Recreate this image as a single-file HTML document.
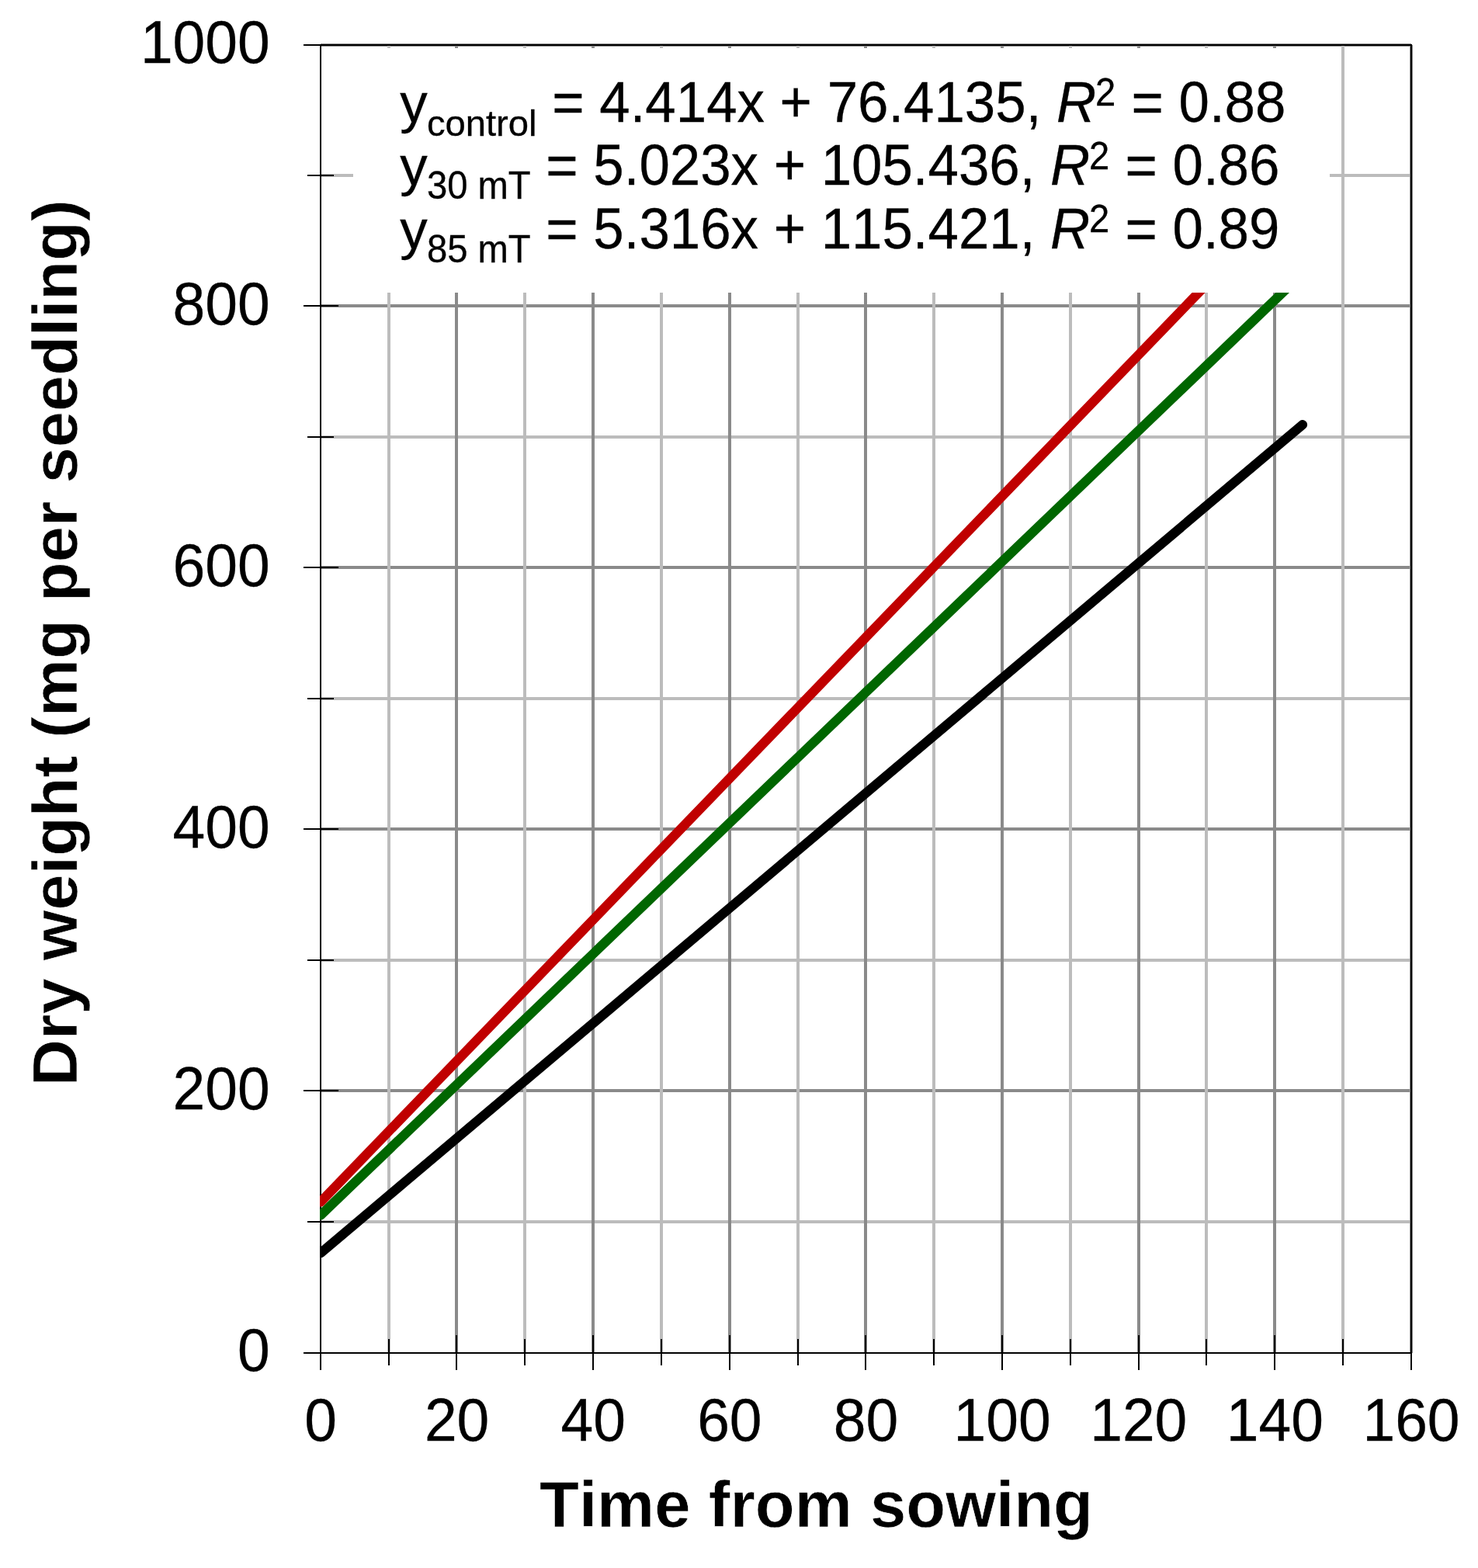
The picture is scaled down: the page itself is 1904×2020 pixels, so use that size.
<!DOCTYPE html>
<html lang="en"><head><meta charset="utf-8"><title>Dry weight (mg per seedling) vs. time from sowing</title>
<style>
html,body{margin:0;padding:0;background:#fff;overflow:hidden;width:1904px;height:2020px}
svg{display:block}
text{font-family:"Liberation Sans",sans-serif;font-kerning:none;fill:#000}
.tk{font-size:75px;stroke:#000;stroke-width:0.3px}
.ti{font-size:83.33px;font-weight:bold;stroke:#fff;stroke-width:0.6px}
.eq{font-size:70.83px;stroke:#000;stroke-width:0.3px}
.sb{font-size:47.2px}
</style></head><body>
<svg width="1904" height="2020" viewBox="0 0 1904 2020" role="img" aria-label="Dry weight (mg per seedling) versus time from sowing">
<rect x="0" y="0" width="1904" height="2020" fill="#fff"/>
<g fill="none" stroke-width="4" shape-rendering="crispEdges">
<line x1="413" x2="1818" y1="1574" y2="1574" stroke="#bcbcbc"/>
<line x1="413" x2="1818" y1="1405" y2="1405" stroke="#8a8a8a"/>
<line x1="413" x2="1818" y1="1237" y2="1237" stroke="#bcbcbc"/>
<line x1="413" x2="1818" y1="1068" y2="1068" stroke="#8a8a8a"/>
<line x1="413" x2="1818" y1="900" y2="900" stroke="#bcbcbc"/>
<line x1="413" x2="1818" y1="731" y2="731" stroke="#8a8a8a"/>
<line x1="413" x2="1818" y1="563" y2="563" stroke="#bcbcbc"/>
<line x1="413" x2="1818" y1="394" y2="394" stroke="#8a8a8a"/>
<line x1="413" x2="1818" y1="226" y2="226" stroke="#bcbcbc"/>
<line x1="413" x2="1818" y1="58" y2="58" stroke="#8a8a8a"/>
<line x1="501" x2="501" y1="58" y2="1743" stroke="#bcbcbc"/>
<line x1="588" x2="588" y1="58" y2="1743" stroke="#8a8a8a"/>
<line x1="676" x2="676" y1="58" y2="1743" stroke="#bcbcbc"/>
<line x1="764" x2="764" y1="58" y2="1743" stroke="#8a8a8a"/>
<line x1="852" x2="852" y1="58" y2="1743" stroke="#bcbcbc"/>
<line x1="940" x2="940" y1="58" y2="1743" stroke="#8a8a8a"/>
<line x1="1028" x2="1028" y1="58" y2="1743" stroke="#bcbcbc"/>
<line x1="1115" x2="1115" y1="58" y2="1743" stroke="#8a8a8a"/>
<line x1="1203" x2="1203" y1="58" y2="1743" stroke="#bcbcbc"/>
<line x1="1291" x2="1291" y1="58" y2="1743" stroke="#8a8a8a"/>
<line x1="1379" x2="1379" y1="58" y2="1743" stroke="#bcbcbc"/>
<line x1="1467" x2="1467" y1="58" y2="1743" stroke="#8a8a8a"/>
<line x1="1554" x2="1554" y1="58" y2="1743" stroke="#bcbcbc"/>
<line x1="1642" x2="1642" y1="58" y2="1743" stroke="#8a8a8a"/>
<line x1="1730" x2="1730" y1="58" y2="1743" stroke="#bcbcbc"/>
<line x1="1818" x2="1818" y1="58" y2="1743" stroke="#8a8a8a"/>
</g>
<rect x="455" y="62" width="1258" height="315" fill="#fff"/>
<g fill="none" stroke="#000" stroke-width="2">
<rect x="413" y="58" width="1405" height="1685"/>
<line x1="391" x2="413" y1="1743" y2="1743"/>
<line x1="396" x2="430" y1="1574" y2="1574"/>
<line x1="391" x2="436" y1="1405" y2="1405"/>
<line x1="396" x2="430" y1="1237" y2="1237"/>
<line x1="391" x2="436" y1="1068" y2="1068"/>
<line x1="396" x2="430" y1="900" y2="900"/>
<line x1="391" x2="436" y1="731" y2="731"/>
<line x1="396" x2="430" y1="563" y2="563"/>
<line x1="391" x2="436" y1="394" y2="394"/>
<line x1="396" x2="430" y1="226" y2="226"/>
<line x1="391" x2="413" y1="58" y2="58"/>
<line x1="413" x2="413" y1="1743" y2="1765"/>
<line x1="501" x2="501" y1="1725" y2="1759"/>
<line x1="588" x2="588" y1="1720" y2="1765"/>
<line x1="676" x2="676" y1="1725" y2="1759"/>
<line x1="764" x2="764" y1="1720" y2="1765"/>
<line x1="852" x2="852" y1="1725" y2="1759"/>
<line x1="940" x2="940" y1="1720" y2="1765"/>
<line x1="1028" x2="1028" y1="1725" y2="1759"/>
<line x1="1115" x2="1115" y1="1720" y2="1765"/>
<line x1="1203" x2="1203" y1="1725" y2="1759"/>
<line x1="1291" x2="1291" y1="1720" y2="1765"/>
<line x1="1379" x2="1379" y1="1725" y2="1759"/>
<line x1="1467" x2="1467" y1="1720" y2="1765"/>
<line x1="1554" x2="1554" y1="1725" y2="1759"/>
<line x1="1642" x2="1642" y1="1720" y2="1765"/>
<line x1="1730" x2="1730" y1="1725" y2="1759"/>
<line x1="1818" x2="1818" y1="1743" y2="1765"/>
</g>
<clipPath id="pc"><rect x="412" y="377" width="1407" height="1366"/></clipPath>
<clipPath id="pk"><rect x="412" y="58" width="1407" height="1685"/></clipPath>
<g clip-path="url(#pc)"><line x1="413" y1="1565.5" x2="1678" y2="352.251" fill="none" stroke="#006600" stroke-width="12.2" stroke-linecap="round"/></g>
<g clip-path="url(#pc)"><line x1="413" y1="1548.5" x2="1678" y2="238.314" fill="none" stroke="#c00000" stroke-width="12.2" stroke-linecap="round"/></g>
<g clip-path="url(#pk)"><line x1="413" y1="1614.3" x2="1678" y2="547.197" fill="none" stroke="#000000" stroke-width="12.2" stroke-linecap="round"/></g>
<text class="tk" text-anchor="end" transform="translate(347.7 1766.3) scale(1 1.04)" xml:space="preserve">0</text>
<text class="tk" text-anchor="end" transform="translate(347.7 1429.3) scale(1 1.04)" xml:space="preserve">200</text>
<text class="tk" text-anchor="end" transform="translate(347.7 1092.3) scale(1 1.04)" xml:space="preserve">400</text>
<text class="tk" text-anchor="end" transform="translate(347.7 755.3) scale(1 1.04)" xml:space="preserve">600</text>
<text class="tk" text-anchor="end" transform="translate(347.7 418.3) scale(1 1.04)" xml:space="preserve">800</text>
<text class="tk" text-anchor="end" transform="translate(347.7 81.3) scale(1 1.04)" xml:space="preserve">1000</text>
<text class="tk" text-anchor="middle" transform="translate(413 1856.3) scale(1 1.04)" xml:space="preserve">0</text>
<text class="tk" text-anchor="middle" transform="translate(588.625 1856.3) scale(1 1.04)" xml:space="preserve">20</text>
<text class="tk" text-anchor="middle" transform="translate(764.25 1856.3) scale(1 1.04)" xml:space="preserve">40</text>
<text class="tk" text-anchor="middle" transform="translate(939.875 1856.3) scale(1 1.04)" xml:space="preserve">60</text>
<text class="tk" text-anchor="middle" transform="translate(1115.5 1856.3) scale(1 1.04)" xml:space="preserve">80</text>
<text class="tk" text-anchor="middle" transform="translate(1291.125 1856.3) scale(1 1.04)" xml:space="preserve">100</text>
<text class="tk" text-anchor="middle" transform="translate(1466.75 1856.3) scale(1 1.04)" xml:space="preserve">120</text>
<text class="tk" text-anchor="middle" transform="translate(1642.375 1856.3) scale(1 1.04)" xml:space="preserve">140</text>
<text class="tk" text-anchor="middle" transform="translate(1818 1856.3) scale(1 1.04)" xml:space="preserve">160</text>
<text class="ti" text-anchor="middle" transform="translate(1051.5 1966.5) scale(1 0.99)">Time from sowing</text>
<text class="ti" style="font-size:83.2px" text-anchor="middle" transform="translate(99 828.2) rotate(-90) scale(1 0.99)">Dry weight (mg per seedling)</text>
<text class="eq" transform="translate(515.3 156.8) scale(1 1.04)" xml:space="preserve"><tspan style="font-size:66.916px" textLength="35.415" lengthAdjust="spacingAndGlyphs">y</tspan><tspan dx="-0.8" dy="17.2" style="font-size:44.592px" textLength="141.669" lengthAdjust="spacingAndGlyphs">control</tspan><tspan dy="-17.2"> = 4.414x + 76.4135, </tspan><tspan font-style="italic">R</tspan><tspan class="sb" dx="-1.2" dy="-20.1">2</tspan><tspan dx="0.6" dy="20.1"> = 0.88</tspan></text>
<text class="eq" transform="translate(515.3 238.4) scale(1 1.04)" xml:space="preserve"><tspan style="font-size:66.916px" textLength="35.415" lengthAdjust="spacingAndGlyphs">y</tspan><tspan class="sb" dx="-0.8" dy="17.2">30 mT</tspan><tspan dy="-17.2"> = 5.023x + 105.436, </tspan><tspan font-style="italic">R</tspan><tspan class="sb" dx="-1.2" dy="-20.1">2</tspan><tspan dx="0.6" dy="20.1"> = 0.86</tspan></text>
<text class="eq" transform="translate(515.3 320) scale(1 1.04)" xml:space="preserve"><tspan style="font-size:66.916px" textLength="35.415" lengthAdjust="spacingAndGlyphs">y</tspan><tspan class="sb" dx="-0.8" dy="17.2">85 mT</tspan><tspan dy="-17.2"> = 5.316x + 115.421, </tspan><tspan font-style="italic">R</tspan><tspan class="sb" dx="-1.2" dy="-20.1">2</tspan><tspan dx="0.6" dy="20.1"> = 0.89</tspan></text>
</svg>
</body></html>
